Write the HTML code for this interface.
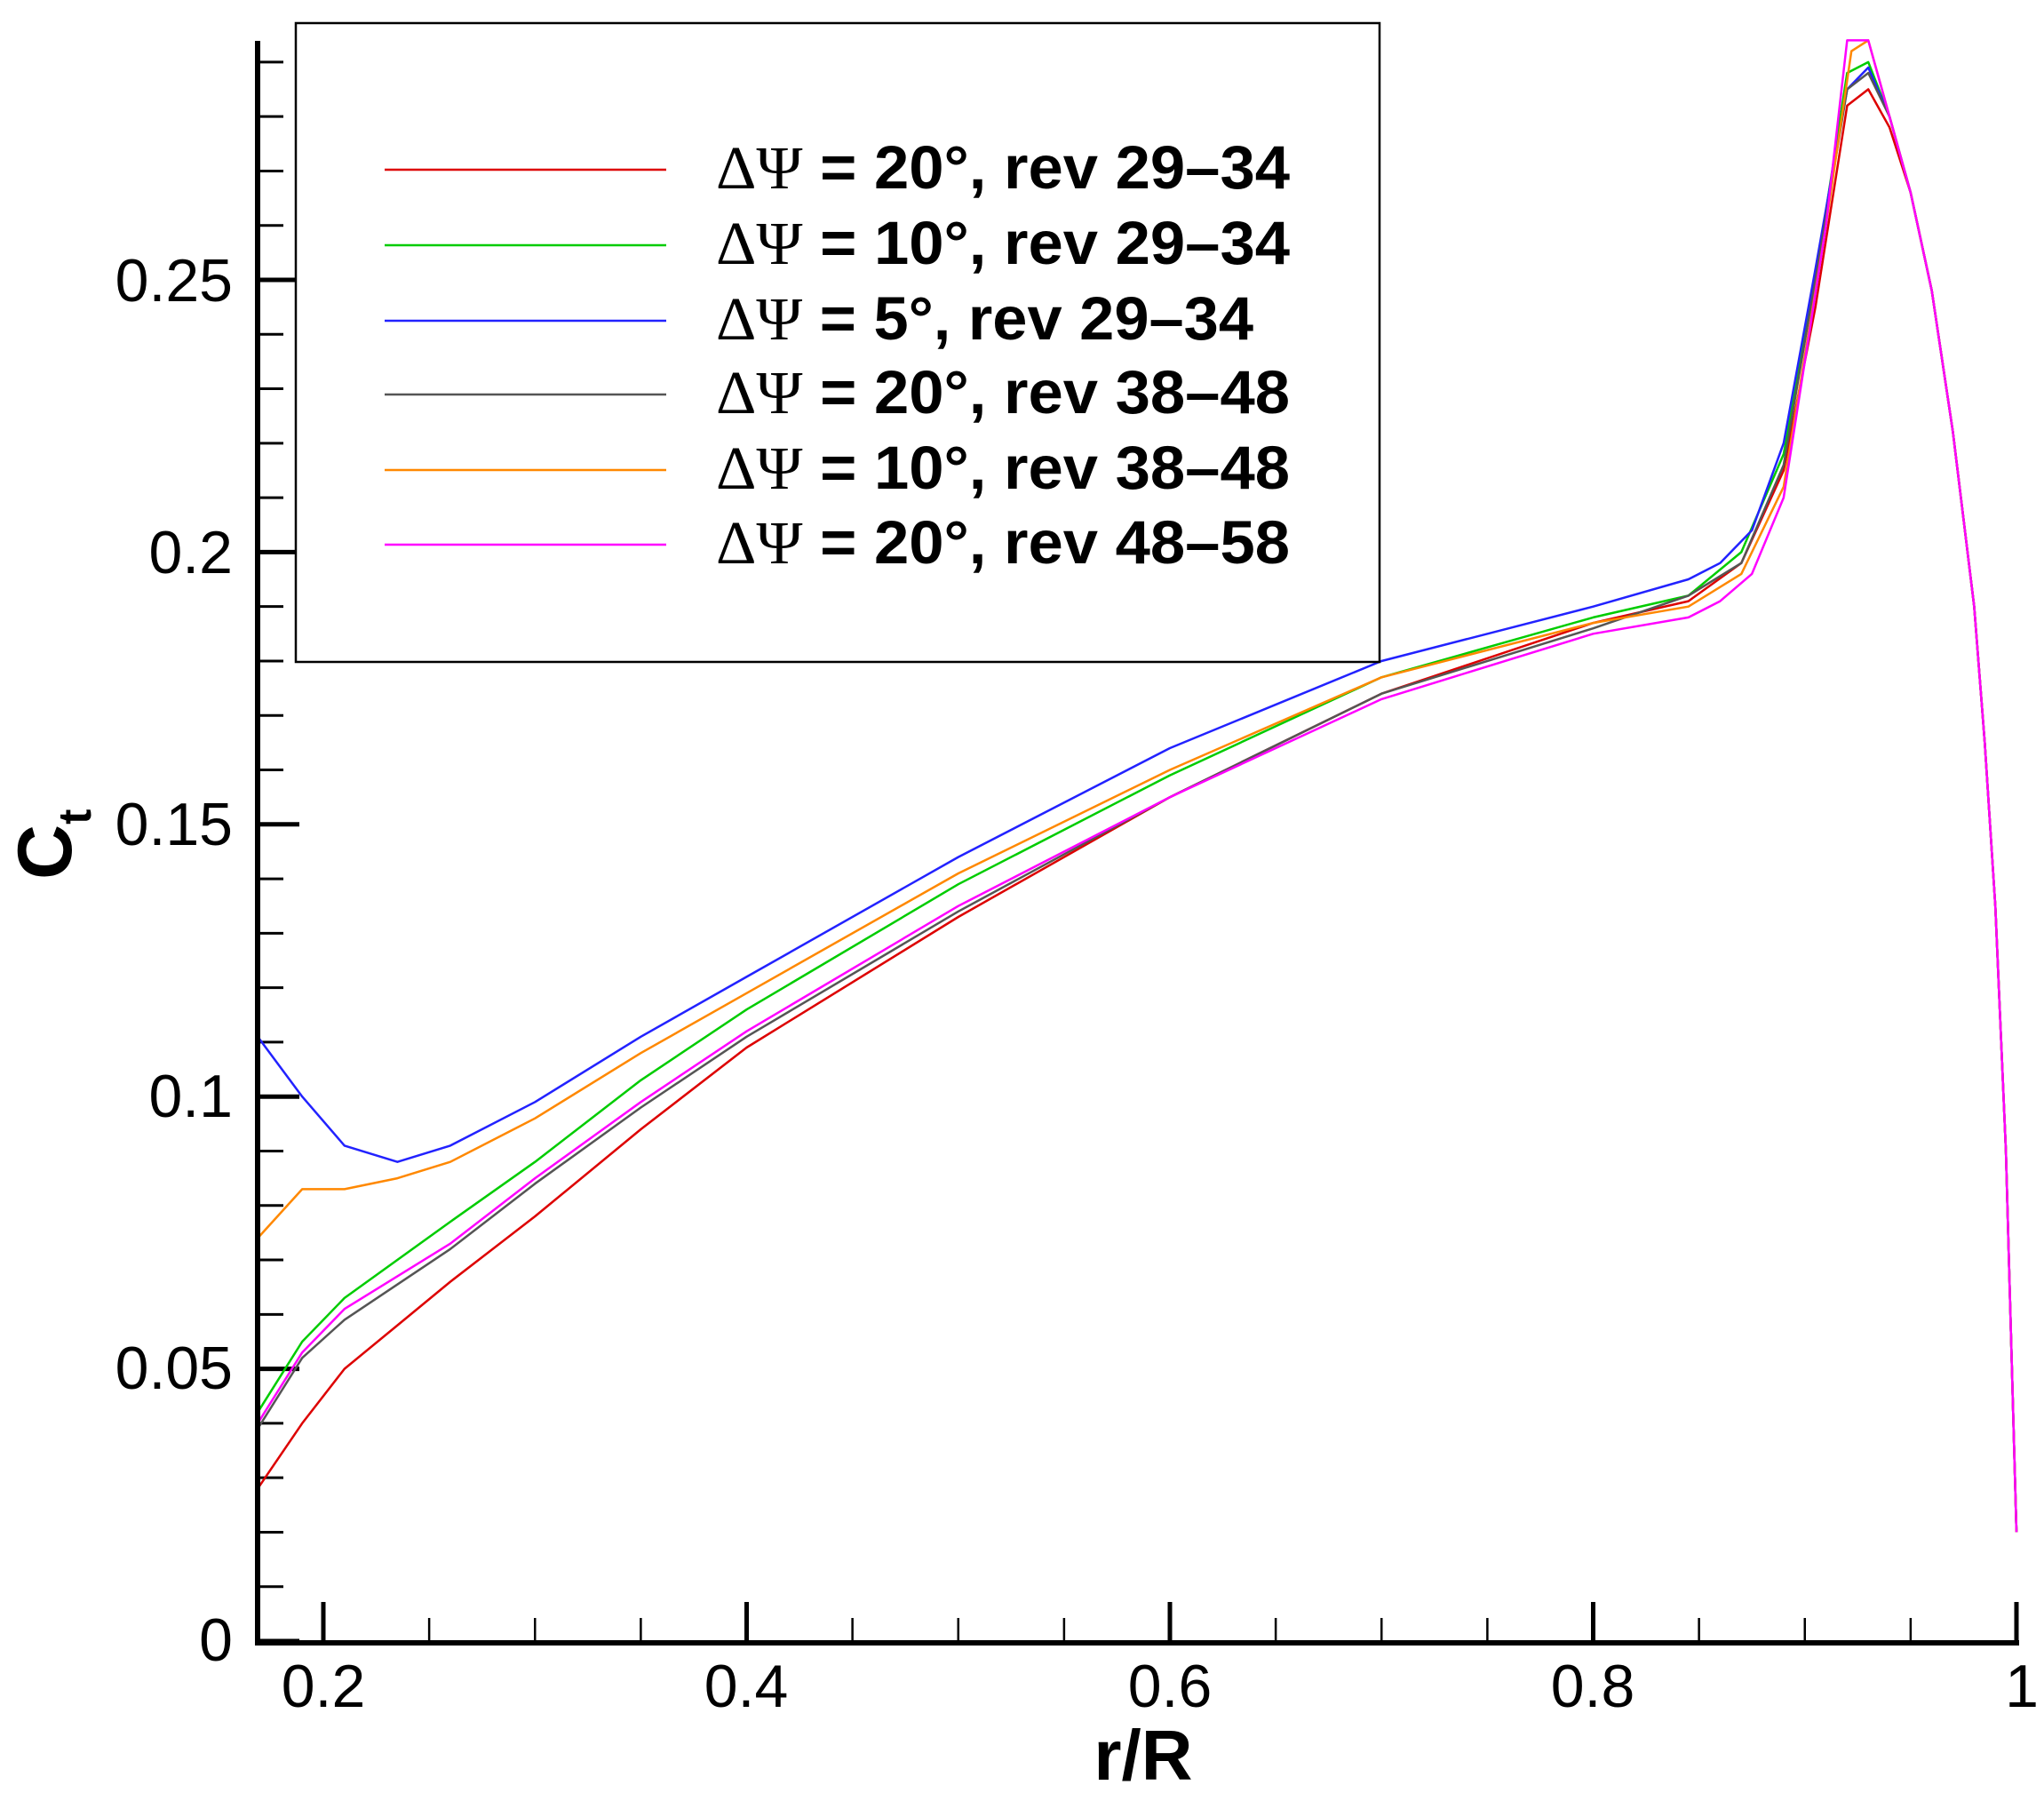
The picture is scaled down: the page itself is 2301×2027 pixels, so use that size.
<!DOCTYPE html>
<html><head><meta charset="utf-8"><style>html,body{margin:0;padding:0;background:#fff}svg{display:block}</style></head>
<body>
<svg id="s" width="2301" height="2027" viewBox="0 0 2301 2027" xmlns="http://www.w3.org/2000/svg" font-family="Liberation Sans, sans-serif">
<rect width="2301" height="2027" fill="#fff"/>
<g id="ticks" stroke="#000"></g>
<g id="curves" fill="none" stroke-width="2.5"></g>
<line x1="290" y1="46" x2="290" y2="1852" stroke="#000" stroke-width="6"/>
<line x1="290" y1="1849" x2="2273" y2="1849" stroke="#000" stroke-width="6"/>
<g font-size="68" text-anchor="end">
<text x="262" y="339">0.25</text>
<text x="262" y="645">0.2</text>
<text x="262" y="951">0.15</text>
<text x="262" y="1257">0.1</text>
<text x="262" y="1563">0.05</text>
<text x="262" y="1869">0</text>
</g>
<g font-size="68" text-anchor="middle">
<text x="364" y="1921">0.2</text>
<text x="840" y="1921">0.4</text>
<text x="1317" y="1921">0.6</text>
<text x="1793" y="1921">0.8</text>
<text x="2276" y="1921">1</text>
</g>
<text x="1287" y="2003" font-size="80" font-weight="bold" text-anchor="middle">r/R</text>
<text transform="translate(80,990) rotate(-90)" font-size="86" font-weight="bold">C<tspan font-size="52" dy="22">t</tspan></text>
<rect x="333" y="26" width="1220" height="719" fill="#fff" stroke="#000" stroke-width="2.5"/>
<g id="leg"></g>
</svg>
<script>
var X=r=>364+(r-0.2)*2382.5, Y=v=>1847-v*6128;
var t='';
for(var i=0;i<=29;i++){var y=Y(i*0.01);var maj=i%5==0;t+='<line x1="290" y1="'+y+'" x2="'+(maj?337:319)+'" y2="'+y+'" stroke-width="'+(maj?5:3)+'"/>';}
for(var i=0;i<=16;i++){var r=0.2+i*0.05;var x=X(r);var maj=i%4==0;t+='<line x1="'+x+'" y1="1848" x2="'+x+'" y2="'+(maj?1803:1821)+'" stroke-width="'+(maj?5:2.5)+'"/>';}
document.getElementById('ticks').innerHTML=t;
var tail=[[0.94,0.28],[0.95,0.266],[0.96,0.248],[0.97,0.222],[0.98,0.19],[0.985,0.165],[0.99,0.135],[0.995,0.09],[1.0,0.02]];
var S=[
['#dd0000',[[0.169,0.028],[0.19,0.04],[0.21,0.05],[0.235,0.058],[0.26,0.066],[0.3,0.078],[0.35,0.094],[0.4,0.109],[0.5,0.133],[0.6,0.155],[0.7,0.174],[0.8,0.187],[0.845,0.191],[0.87,0.198],[0.89,0.215],[0.905,0.245],[0.92,0.282],[0.93,0.285],[0.94,0.278]]],
['#00cc00',[[0.169,0.042],[0.19,0.055],[0.21,0.063],[0.26,0.077],[0.3,0.088],[0.35,0.103],[0.4,0.116],[0.5,0.139],[0.6,0.159],[0.7,0.177],[0.8,0.188],[0.845,0.192],[0.87,0.2],[0.89,0.218],[0.905,0.25],[0.92,0.288],[0.93,0.29]]],
['#2222ff',[[0.169,0.111],[0.19,0.1],[0.21,0.091],[0.235,0.088],[0.26,0.091],[0.3,0.099],[0.35,0.111],[0.4,0.122],[0.5,0.144],[0.6,0.164],[0.7,0.18],[0.8,0.19],[0.845,0.195],[0.86,0.198],[0.875,0.204],[0.89,0.22],[0.905,0.252],[0.92,0.285],[0.93,0.289]]],
['#555555',[[0.169,0.039],[0.19,0.052],[0.21,0.059],[0.26,0.072],[0.3,0.084],[0.35,0.098],[0.4,0.111],[0.5,0.134],[0.6,0.155],[0.7,0.174],[0.8,0.186],[0.845,0.192],[0.87,0.198],[0.89,0.216],[0.905,0.25],[0.92,0.285],[0.93,0.288]]],
['#ff8800',[[0.169,0.074],[0.19,0.083],[0.21,0.083],[0.235,0.085],[0.26,0.088],[0.3,0.096],[0.35,0.108],[0.4,0.119],[0.5,0.141],[0.6,0.16],[0.7,0.177],[0.8,0.187],[0.845,0.19],[0.87,0.196],[0.89,0.212],[0.91,0.26],[0.922,0.292],[0.93,0.294]]],
['#ff00ff',[[0.169,0.04],[0.19,0.053],[0.21,0.061],[0.26,0.073],[0.3,0.085],[0.35,0.099],[0.4,0.112],[0.5,0.135],[0.6,0.155],[0.7,0.173],[0.8,0.185],[0.845,0.188],[0.86,0.191],[0.875,0.196],[0.89,0.21],[0.91,0.26],[0.92,0.294],[0.93,0.294]]]
];
var c='',l='';
var labels=['= 20°, rev 29–34','= 10°, rev 29–34','= 5°, rev 29–34','= 20°, rev 38–48','= 10°, rev 38–48','= 20°, rev 48–58'];
var ly=[191,276,361,444,529,613];
S.forEach(function(s,k){var p=s[1].concat(tail.filter(q=>q[0]>s[1][s[1].length-1][0]));
c+='<polyline stroke-linejoin="round" stroke="'+s[0]+'" points="'+p.map(q=>X(q[0]).toFixed(1)+','+Y(q[1]).toFixed(1)).join(' ')+'"/>';
l+='<line x1="433" y1="'+ly[k]+'" x2="750" y2="'+ly[k]+'" stroke="'+s[0]+'" stroke-width="2.5"/>';
var w=(k==2)?605:646;
l+='<text x="806" y="'+(ly[k]+21)+'" font-size="69" font-weight="bold" textLength="'+w+'" lengthAdjust="spacingAndGlyphs"><tspan font-family="Liberation Serif, serif" font-weight="normal">ΔΨ</tspan> '+labels[k]+'</text>';
});
document.getElementById('curves').innerHTML=c;
document.getElementById('leg').innerHTML=l;
</script>
</body></html>
